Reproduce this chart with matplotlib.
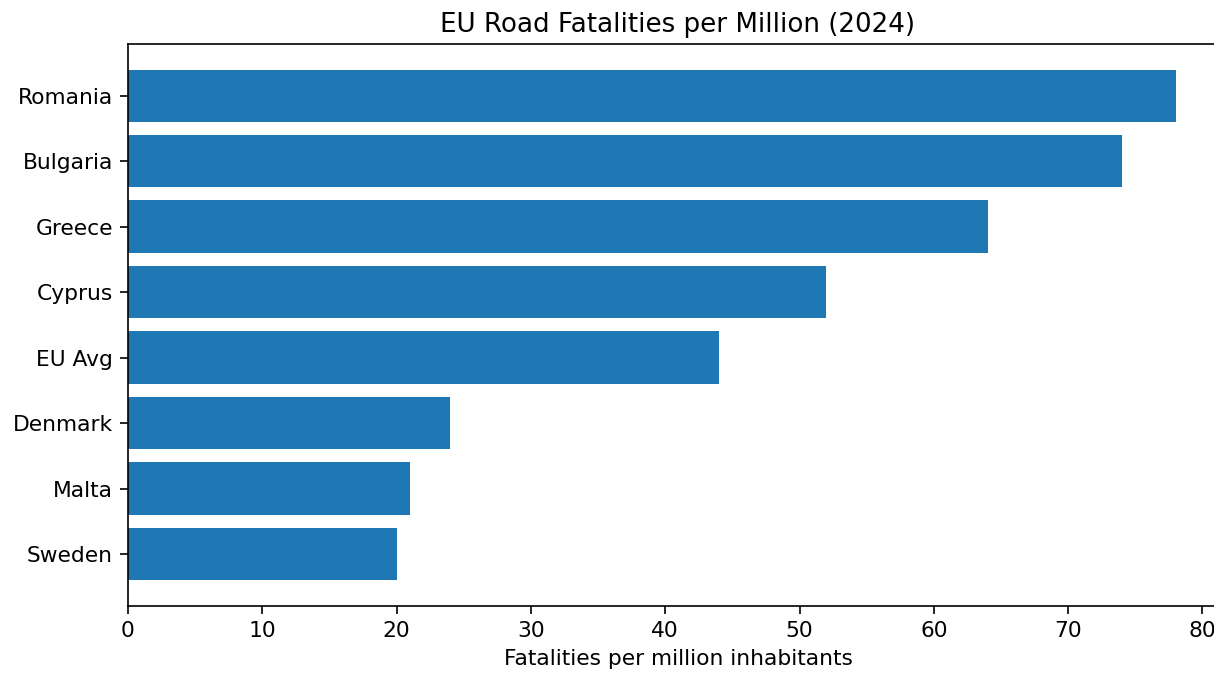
import matplotlib
matplotlib.use("Agg")
import matplotlib.pyplot as plt

# countries listed bottom-to-top (barh draws first item at the bottom)
countries = ["Sweden", "Malta", "Denmark", "EU Avg", "Cyprus", "Greece", "Bulgaria", "Romania"]
fatalities = [20, 21, 24, 44, 52, 64, 74, 78]

plt.rcParams["font.size"] = 10.45
plt.rcParams["xtick.major.size"] = 3.7
plt.rcParams["ytick.major.size"] = 3.7

DPI = 150
fig = plt.figure(figsize=(1214 / DPI, 673 / DPI), dpi=DPI)
# axes runs a bit past the right edge, like the cropped original
ax = fig.add_axes([128 / 1214, 67.3 / 673, 1100 / 1214, 561.7 / 673])

ax.barh(countries, fatalities, color="#1f77b4")
ax.set_xlabel("Fatalities per million inhabitants")
ax.set_title("EU Road Fatalities per Million (2024)")

fig.savefig("out.png", dpi=DPI)
